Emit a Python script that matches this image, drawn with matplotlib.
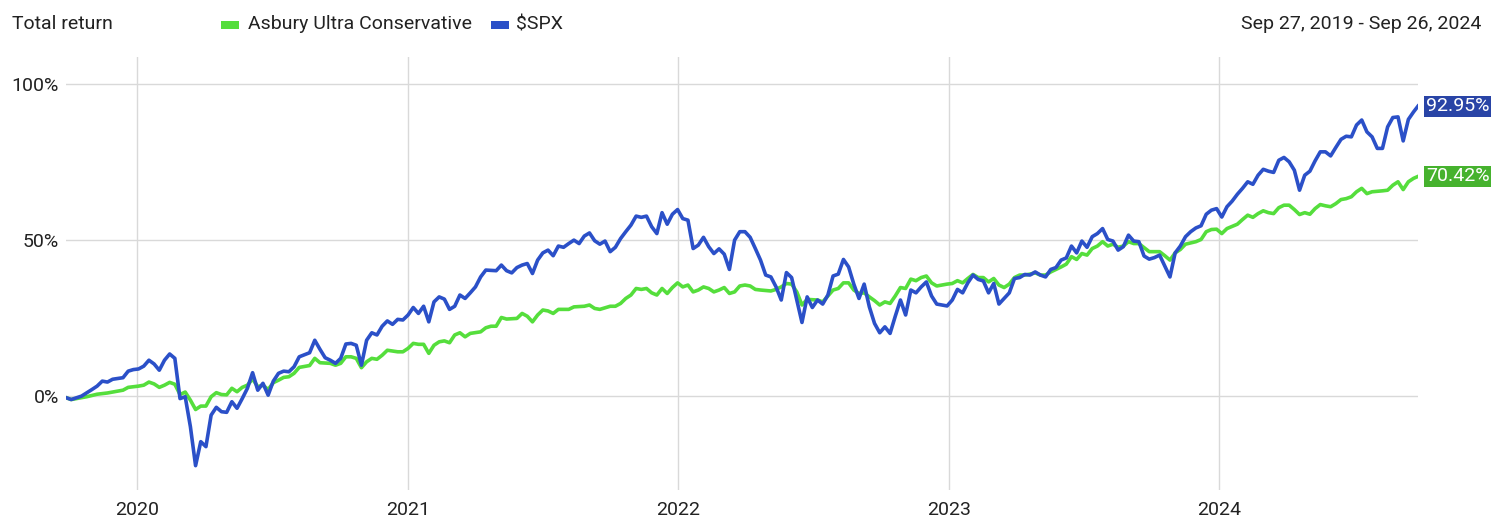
import numpy as np
import matplotlib
matplotlib.use("Agg")
import matplotlib.pyplot as plt
from matplotlib.patches import Rectangle

plt.rcParams['font.family'] = ['Roboto', 'DejaVu Sans']

# ---------------- data ----------------
start_date = np.datetime64("2019-09-27")
end_date = np.datetime64("2024-09-26")
title_text = "Total return"
date_range_text = "Sep 27, 2019 - Sep 26, 2024"
series_names = ["Asbury Ultra Conservative", "$SPX"]
years = [2020, 2021, 2022, 2023, 2024]
y_ticks = [0, 50, 100]
y_tick_labels = ["0%", "50%", "100%"]

# week offsets from start_date and total return (%)
spx_weeks = [0, 1, 3, 5, 6, 7, 8, 9, 11, 12, 13, 14, 15, 16, 17, 18, 19, 20, 21, 22, 23, 24, 25, 26, 27, 28, 29,
             30, 31, 32, 33, 34, 35, 36, 37, 38, 39, 40, 41, 42, 43, 44, 45, 47, 48, 49, 50, 51, 52, 53, 54, 55,
             56, 57, 58, 59, 60, 61, 62, 63, 64, 65, 66, 67, 68, 69, 70, 71, 72, 73, 74, 75, 76, 77, 78, 79, 80,
             81, 83, 84, 85, 86, 87, 88, 89, 90, 91, 92, 93, 94, 95, 96, 97, 98, 99, 100, 101, 102, 103, 104,
             105, 106, 107, 108, 109, 110, 111, 112, 113, 114, 115, 116, 117, 118, 119, 120, 121, 122, 123, 124,
             125, 126, 127, 128, 129, 130, 131, 132, 133, 134, 135, 136, 137, 138, 139, 140, 141, 142, 143, 144,
             145, 146, 147, 148, 149, 150, 151, 152, 153, 154, 155, 156, 157, 158, 159, 160, 161, 162, 163, 164,
             165, 166, 167, 168, 169, 170, 171, 172, 173, 174, 175, 176, 177, 178, 179, 180, 181, 182, 183, 184,
             185, 186, 187, 188, 189, 190, 191, 192, 193, 194, 195, 196, 197, 198, 199, 200, 201, 202, 203, 204,
             205, 206, 207, 208, 209, 210, 211, 212, 213, 214, 215, 216, 217, 218, 219, 220, 221, 222, 223, 224,
             225, 226, 227, 228, 229, 230, 231, 232, 233, 234, 235, 236, 237, 238, 239, 240, 241, 242, 243, 244,
             245, 246, 247, 248, 249, 250, 251, 252, 253, 254, 255, 256, 257, 258, 259, 260, 261]
spx_values = [-0.5, -1.1, 0.0, 2.1, 3.2, 4.8, 4.5, 5.4, 5.9, 8.0, 8.5, 8.7, 9.6, 11.5, 10.3, 8.3, 11.5, 13.5, 12.1,
              -0.8, -0.2, -9.8, -22.3, -14.6, -16.2, -6.1, -3.6, -5.0, -5.2, -1.8, -3.9, -0.8, 2.5, 7.5, 1.9, 4.1,
              0.3, 4.8, 7.3, 8.0, 7.8, 9.4, 12.6, 13.9, 17.9, 15.0, 12.3, 11.5, 10.5, 12.1, 16.7, 16.9, 16.3, 9.9,
              17.9, 20.3, 19.6, 22.4, 24.1, 23.0, 24.6, 24.4, 26.0, 28.4, 26.5, 28.8, 23.8, 30.2, 31.8, 31.1, 27.8,
              28.8, 32.4, 31.3, 33.1, 35.0, 38.2, 40.4, 40.2, 42.0, 40.2, 39.5, 41.2, 42.0, 42.5, 39.3, 43.6, 45.9,
              46.8, 45.0, 48.1, 47.7, 48.9, 50.0, 48.9, 51.3, 52.3, 49.8, 48.7, 49.7, 46.3, 47.7, 50.5, 52.7, 54.8,
              57.7, 57.3, 57.7, 54.3, 52.1, 58.8, 55.1, 58.3, 59.8, 56.9, 56.4, 47.3, 48.4, 50.9, 47.9, 45.7, 47.2,
              45.5, 40.6, 50.0, 52.7, 52.7, 50.9, 47.3, 43.6, 38.8, 38.2, 35.0, 30.8, 39.6, 38.0, 30.8, 23.6, 31.8,
              28.4, 30.8, 29.5, 32.4, 38.5, 39.1, 43.8, 41.4, 35.9, 31.3, 35.9, 28.6, 23.3, 20.3, 22.2, 20.1, 25.6,
              30.8, 26.0, 34.0, 33.1, 35.0, 36.6, 32.1, 29.5, 29.2, 28.9, 30.8, 34.2, 33.1, 36.3, 38.8, 37.4, 36.9,
              33.1, 36.1, 29.5, 31.3, 33.1, 37.7, 38.0, 39.0, 38.8, 39.8, 38.8, 38.2, 40.6, 41.2, 43.6, 44.3, 48.1,
              45.9, 49.7, 47.7, 51.1, 52.1, 53.7, 50.2, 49.7, 46.8, 47.9, 51.6, 49.7, 49.5, 44.9, 43.9, 44.4, 45.2,
              41.7, 38.2, 45.9, 48.1, 51.1, 52.7, 53.9, 54.6, 58.3, 59.6, 60.1, 57.4, 60.7, 62.5, 64.7, 66.6, 68.7,
              67.9, 70.8, 72.7, 72.1, 71.7, 75.6, 76.5, 75.1, 72.4, 66.0, 70.8, 72.1, 75.4, 78.3, 78.3, 77.0, 79.7,
              82.3, 83.3, 83.1, 86.9, 88.5, 84.7, 83.1, 79.4, 79.4, 86.3, 89.3, 89.5, 81.8, 88.7, 91.1, 92.95]

asbury_weeks = [0, 1, 4, 6, 8, 10, 11, 12, 14, 15, 16, 17, 18, 19, 20, 21, 22, 23, 24, 25, 26, 27, 28, 29, 30,
                31, 32, 33, 34, 35, 36, 37, 38, 39, 40, 41, 42, 43, 44, 45, 47, 48, 49, 51, 52, 53, 54, 55, 56,
                57, 58, 59, 60, 61, 62, 64, 65, 66, 67, 68, 69, 70, 71, 72, 73, 74, 75, 76, 77, 78, 80, 81, 82,
                83, 84, 85, 87, 88, 89, 90, 91, 92, 93, 94, 95, 97, 98, 100, 101, 102, 103, 105, 106, 107, 108,
                109, 110, 111, 112, 113, 114, 115, 116, 117, 118, 119, 120, 121, 122, 123, 124, 125, 126, 127,
                128, 129, 130, 131, 132, 133, 134, 136, 137, 138, 139, 140, 141, 142, 143, 145, 146, 147, 148,
                149, 150, 151, 152, 153, 154, 155, 156, 157, 158, 159, 160, 161, 162, 163, 164, 165, 166, 167,
                168, 169, 170, 171, 172, 173, 174, 175, 176, 177, 178, 179, 180, 181, 182, 183, 184, 185, 186,
                187, 188, 189, 190, 191, 192, 193, 194, 195, 196, 197, 198, 199, 200, 201, 202, 203, 204, 205,
                206, 207, 209, 210, 211, 212, 213, 214, 215, 216, 218, 219, 220, 221, 222, 223, 224, 226, 227,
                228, 229, 230, 231, 232, 233, 234, 235, 236, 237, 238, 239, 240, 241, 242, 243, 244, 245, 246,
                247, 248, 249, 250, 251, 252, 254, 255, 256, 257, 258, 259, 260, 261]
asbury_values = [-0.5, -1.1, -0.2, 0.6, 1.0, 1.6, 1.9, 2.8, 3.2, 3.5, 4.5, 3.9, 2.8, 3.5, 4.4, 3.8, 0.5, 1.3,
                 -1.3, -4.3, -3.2, -3.2, -0.2, 1.1, 0.5, 0.4, 2.5, 1.4, 2.8, 3.5, 5.5, 3.0, 3.5, 2.1, 4.3, 5.1,
                 6.0, 6.2, 7.3, 9.2, 9.8, 12.1, 10.7, 10.5, 9.9, 10.5, 12.6, 12.6, 12.1, 9.1, 11.0, 12.1, 11.8,
                 13.1, 14.7, 14.2, 14.2, 15.3, 16.9, 16.6, 16.6, 13.7, 16.3, 17.4, 17.7, 17.1, 19.6, 20.3, 19.0,
                 20.1, 20.6, 21.9, 22.4, 22.4, 25.2, 24.7, 24.9, 26.5, 25.6, 23.8, 26.0, 27.6, 27.3, 26.5, 27.8,
                 27.8, 28.6, 28.8, 29.2, 28.1, 27.8, 28.8, 28.8, 29.7, 31.3, 32.4, 34.5, 34.2, 34.5, 33.1, 32.4,
                 34.5, 32.9, 34.8, 36.3, 35.0, 35.6, 33.4, 34.0, 35.0, 34.5, 33.4, 34.0, 34.8, 32.9, 33.4, 35.3,
                 35.6, 35.3, 34.2, 34.0, 33.7, 34.2, 35.0, 36.1, 35.9, 33.4, 29.2, 31.0, 30.8, 30.2, 32.1, 34.0,
                 34.5, 36.3, 36.3, 34.0, 32.9, 33.1, 31.8, 30.6, 29.2, 30.2, 29.7, 32.1, 34.8, 34.5, 37.5, 37.0,
                 38.0, 38.5, 36.3, 35.3, 35.6, 35.9, 36.1, 37.0, 36.3, 37.7, 39.0, 38.0, 38.0, 36.6, 37.7, 35.6,
                 34.8, 35.9, 38.0, 38.8, 38.8, 39.1, 39.5, 38.8, 38.8, 39.8, 40.6, 41.4, 42.3, 44.7, 43.8, 45.7,
                 45.2, 47.3, 48.1, 49.5, 48.1, 48.7, 47.7, 48.1, 49.5, 48.9, 48.9, 46.3, 46.3, 46.3, 45.0, 43.6,
                 45.9, 47.0, 48.7, 49.5, 50.2, 52.7, 53.4, 53.5, 52.1, 53.7, 55.1, 56.6, 58.0, 57.3, 58.5, 59.4,
                 58.8, 58.5, 60.4, 61.2, 61.2, 59.8, 58.2, 58.8, 58.3, 60.1, 61.4, 61.0, 60.7, 61.7, 63.0, 63.3,
                 63.9, 65.5, 66.6, 64.9, 65.5, 65.8, 66.0, 67.6, 68.7, 66.2, 68.7, 69.8, 70.42]

# ---------------- styling ----------------
GREEN = "#55de3c"
BLUE = "#2b50c8"
GREEN_BOX = "#46b22e"
BLUE_BOX = "#2944a6"
GRID = "#d9d9d9"
TEXT = "#222222"
FS = 14

W, H = 1493, 520
fig = plt.figure(figsize=(W / 100, H / 100), dpi=100)
ax_left, ax_right, ax_top, ax_bottom = 66, 1418, 57, 490
ax = fig.add_axes([ax_left / W, 1 - ax_bottom / H, (ax_right - ax_left) / W, (ax_bottom - ax_top) / H])


def to_dates(weeks):
    d = start_date + np.array(weeks) * np.timedelta64(7, 'D')
    return np.minimum(d, end_date)


ax.plot(to_dates(asbury_weeks), asbury_values, color=GREEN, lw=2.6, solid_joinstyle='round', zorder=3)
ax.plot(to_dates(spx_weeks), spx_values, color=BLUE, lw=2.6, solid_joinstyle='round', zorder=4)

ax.set_xlim(start_date, end_date)
ax.set_ylim(-30.1, 108.7)

ax.set_xticks([np.datetime64(f"{y}-01-01") for y in years])
ax.set_xticklabels([str(y) for y in years], fontsize=FS, color=TEXT)
ax.set_yticks(y_ticks)
ax.set_yticklabels(y_tick_labels, fontsize=FS, color=TEXT)
ax.tick_params(axis='both', length=0)
ax.tick_params(axis='x', pad=8)
ax.tick_params(axis='y', pad=5)
ax.grid(True, color=GRID, lw=1.0, zorder=0)
ax.set_axisbelow(True)
for s in ax.spines.values():
    s.set_visible(False)

# end-value labels
for vals, box in ((spx_values, BLUE_BOX), (asbury_values, GREEN_BOX)):
    v = vals[-1]
    ax.annotate(f"{v:.2f}%", xy=(1, v), xycoords=('axes fraction', 'data'),
                xytext=(8, 0), textcoords='offset pixels', ha='left', va='center',
                fontsize=FS, color='white', annotation_clip=False,
                bbox=dict(boxstyle='square,pad=0.08', fc=box, ec='none'))

# header
fig.text(12 / W, 1 - 24 / H, title_text, fontsize=FS, color=TEXT, ha='left', va='center')
fig.text(1481 / W, 1 - 24 / H, date_range_text, fontsize=FS, color=TEXT, ha='right', va='center')

legend_items = [(series_names[0], GREEN, 221, 248), (series_names[1], BLUE, 491, 516)]
for name, col, px, tx in legend_items:
    fig.patches.append(Rectangle((px / W, 1 - 28.5 / H), 18 / W, 8 / H, transform=fig.transFigure,
                                 fc=col, ec='none'))
    fig.text(tx / W, 1 - 24 / H, name, fontsize=FS, color=TEXT, ha='left', va='center')

fig.savefig("out.png", dpi=100, facecolor='white')
